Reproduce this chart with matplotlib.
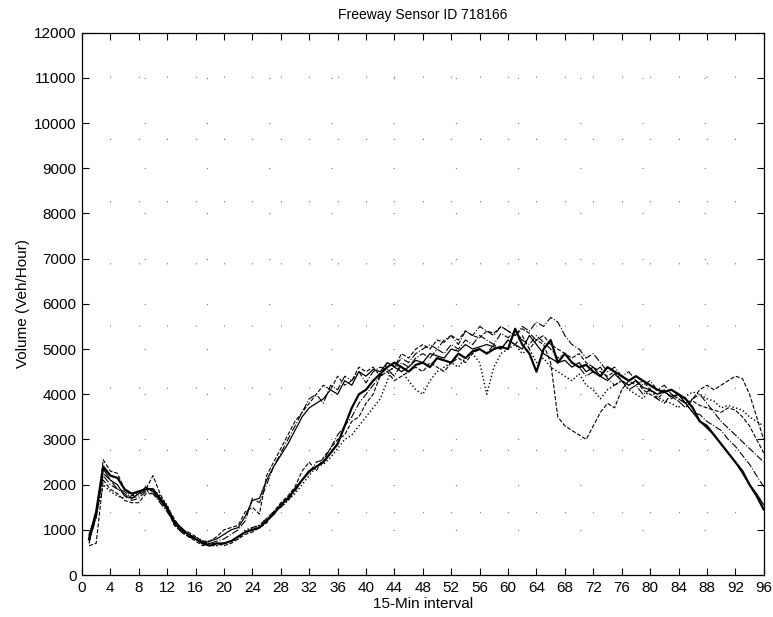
import matplotlib.pyplot as plt
import numpy as np

plt.rcParams['font.family'] = ['Liberation Sans', 'DejaVu Sans']

# 15-min interval index
intervals = np.arange(1, 97)

# volume (veh/hour), one list per day
day_a = [800, 1400, 2400, 2200, 2150, 1900, 1800, 1850, 1900, 1900, 1700, 1500,
         1150, 1000, 900, 800, 700, 650, 700, 700, 750, 850, 950, 1000,
         1050, 1200, 1350, 1550, 1700, 1900, 2100, 2300, 2400, 2500, 2700, 2900,
         3300, 3700, 4000, 4100, 4300, 4450, 4600, 4700, 4600, 4500, 4650, 4700,
         4600, 4800, 4750, 4700, 4900, 4800, 4950, 5000, 4900, 5000, 5050, 5000,
         5450, 5100, 4900, 4500, 5000, 5200, 4700, 4900, 4700, 4600, 4650, 4500,
         4400, 4600, 4500, 4400, 4300, 4400, 4300, 4200, 4100, 4050, 4100, 4000,
         3900, 3700, 3400, 3300, 3100, 2900, 2700, 2500, 2300, 2000, 1750, 1450]
day_b = [900, 1350, 2350, 2100, 2000, 1750, 1700, 1800, 1950, 1850, 1650, 1450,
         1200, 1050, 900, 800, 700, 750, 800, 900, 1000, 1050, 1300, 1650,
         1700, 2100, 2400, 2650, 2900, 3200, 3500, 3700, 3800, 3900, 4100, 4000,
         4300, 4200, 4500, 4400, 4550, 4500, 4700, 4600, 4500, 4600, 4750, 4700,
         4900, 4850, 4800, 5000, 4950, 5100, 5000, 5050, 5100, 5050, 5000, 5200,
         5100, 5000, 5300, 5100, 4900, 4800, 4700, 4750, 4600, 4700, 4500, 4600,
         4400, 4300, 4450, 4300, 4200, 4300, 4150, 4100, 4000, 4050, 3950, 4000,
         3800, 3600, 3400, 3250, 3100, 2900, 2700, 2500, 2250, 2000, 1800, 1550]
day_c = [750, 1300, 2550, 2300, 2250, 1900, 1750, 1850, 1900, 2200, 1800, 1500,
         1250, 1000, 950, 850, 750, 750, 850, 1000, 1050, 1100, 1400, 1500,
         1350, 2200, 2500, 2800, 3100, 3400, 3600, 3800, 4000, 4200, 4100, 4400,
         4200, 4300, 4600, 4500, 4600, 4400, 4700, 4600, 4900, 4800, 5000, 5100,
         5000, 5200, 5150, 5300, 5200, 5400, 5300, 5250, 5400, 5350, 5500, 5400,
         5300, 5450, 5350, 5200, 5300, 5100, 5000, 4900, 4800, 4900, 4700, 4600,
         4500, 4400, 4500, 4300, 4200, 4300, 4100, 4000, 3900, 4050, 3950, 3850,
         3700, 3900, 4100, 4200, 4100, 4200, 4300, 4400, 4350, 4000, 3500, 3000]
day_d = [700, 1350, 2200, 2000, 1900, 1800, 1650, 1700, 1850, 1800, 1600, 1400,
         1150, 950, 850, 800, 750, 700, 750, 800, 900, 1000, 1200, 1700,
         1600, 2000, 2400, 2700, 3000, 3300, 3600, 3900, 4000, 3800, 4200, 4100,
         4400, 4300, 4500, 4250, 4500, 4600, 4550, 4400, 4700, 4600, 4800, 4900,
         4800, 5000, 4900, 5100, 5000, 5200, 5100, 5300, 5200, 5100, 5350, 5250,
         5400, 5200, 5100, 5300, 5150, 5000, 4800, 4900, 4700, 4600, 4400, 4500,
         4600, 4350, 4200, 4300, 4100, 4200, 4000, 4100, 3900, 3800, 4000, 3900,
         3800, 3900, 4000, 3800, 3600, 3400, 3250, 3100, 2950, 2800, 2650, 2500]
day_e = [650, 700, 2100, 1900, 1800, 1650, 1600, 1600, 1800, 1800, 1650, 1450,
         1100, 950, 850, 750, 650, 700, 700, 650, 700, 800, 900, 950,
         1050, 1150, 1400, 1600, 1750, 1950, 2300, 2500, 2300, 2600, 2800, 3000,
         3100, 3400, 3500, 3800, 4000, 4400, 4500, 4300, 4400, 4500, 4600, 4500,
         4700, 4600, 4500, 4700, 4800, 4700, 4900, 5000, 4900, 5100, 5000, 5200,
         5100, 5300, 5000, 5200, 5100, 4700, 3500, 3300, 3200, 3100, 3000, 3300,
         3600, 3800, 3700, 4100, 4300, 4200, 4300, 4100, 4000, 4100, 3900, 4000,
         3800, 3850, 3750, 3700, 3650, 3600, 3700, 3650, 3500, 3300, 3000, 2700]
day_f = [850, 1300, 2000, 1850, 1750, 1700, 1750, 1800, 1850, 1900, 1750, 1550,
         1200, 1000, 900, 850, 750, 650, 650, 700, 750, 800, 1000, 1050,
         1100, 1250, 1400, 1500, 1650, 1800, 2000, 2200, 2400, 2450, 2600, 2800,
         3000, 3100, 3300, 3500, 3700, 3900, 4300, 4700, 4500, 4300, 4100, 4000,
         4300, 4500, 4600, 4700, 4600, 4800, 4900, 4700, 4000, 4600, 4900, 5000,
         5100, 4900, 5000, 4700, 4800, 4600, 4500, 4400, 4300, 4450, 4200, 4100,
         3900, 4100, 4200, 4300, 4100, 4000, 3900, 4100, 3950, 3850, 3800, 3700,
         3950, 4050, 4000, 3900, 3850, 3700, 3750, 3700, 3650, 3500, 3400, 3300]
day_g = [750, 1250, 2250, 2100, 1900, 1850, 1700, 1750, 1900, 1850, 1700, 1450,
         1200, 1000, 850, 800, 700, 700, 650, 700, 750, 850, 950, 1050,
         1100, 1250, 1400, 1500, 1650, 1850, 2100, 2250, 2500, 2550, 2800, 3100,
         3300, 3500, 3800, 4000, 4200, 4400, 4500, 4600, 4800, 4700, 4900, 5000,
         5100, 5000, 5200, 5300, 5100, 5400, 5300, 5500, 5400, 5300, 5500, 5400,
         5300, 5500, 5400, 5600, 5500, 5700, 5600, 5300, 5100, 5000, 4800, 4900,
         4700, 4500, 4600, 4400, 4500, 4300, 4200, 4300, 4100, 4200, 4000, 3900,
         3800, 3600, 3550, 3400, 3300, 3200, 3000, 2850, 2650, 2450, 2200, 1950]

days = [day_a, day_b, day_c, day_d, day_e, day_f, day_g]
styles = ['-', '-', '--', '-.', '--', ':', '-.']
widths = [1.6, 0.9, 0.8, 0.8, 0.8, 1.0, 0.8]

fig = plt.figure(figsize=(7.73, 6.17), dpi=100)
ax = fig.add_axes([0.106, 0.068, 0.882, 0.879])

for d, ls, lw in zip(days, styles, widths):
  ax.plot(intervals, d, color='black', linestyle=ls, linewidth=lw)

ax.set_xlim(0, 96)
ax.set_ylim(0, 12000)
ax.set_xticks(np.arange(0, 97, 4))
ax.set_yticks(np.arange(0, 12001, 1000))

# sparse dotted grid, like the scanned matlab one
ax.grid(True, color='0.45', linestyle=(0, (1, 55)), linewidth=0.8)

ax.tick_params(direction='in', length=5, width=0.8, top=True, right=True,
               labelsize=11, pad=4)
for s in ax.spines.values():
  s.set_linewidth(0.9)

ax.set_title('Freeway Sensor ID 718166', fontsize=10, pad=10)
ax.set_xlabel('15-Min interval', fontsize=11, labelpad=2)
ax.set_ylabel('Volume (Veh/Hour)', fontsize=11, labelpad=3)

plt.savefig('out.png', dpi=100)
